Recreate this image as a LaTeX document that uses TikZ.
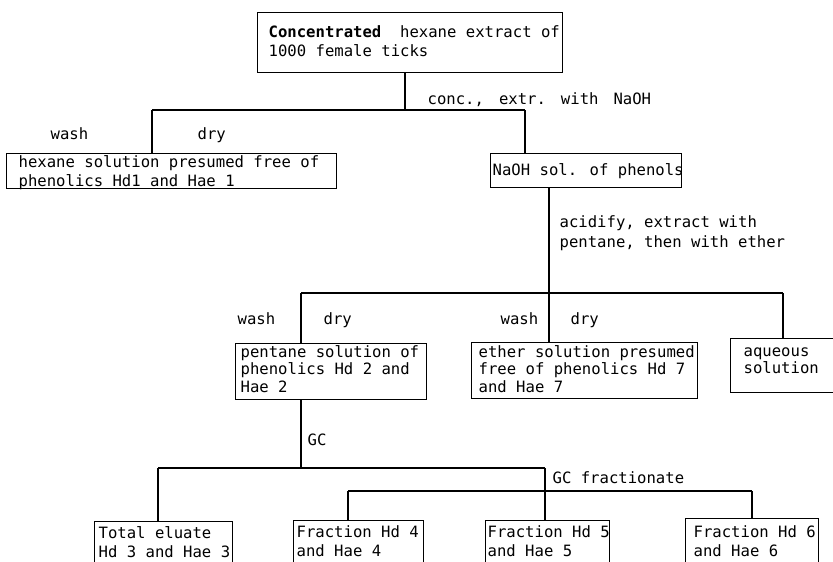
\documentclass[tikz,border=0pt]{standalone}
\usepackage{fontspec}
\setmainfont{DejaVu Sans Mono}
\usetikzlibrary{calc}
\begin{document}
\begin{tikzpicture}[x=1pt,y=-1pt,
  line width=1.35pt,
  frame/.style={draw, anchor=north west, inner sep=0pt},
  txt/.style={anchor=north west, inner sep=0pt, align=left,
              font=\fontsize{15.6pt}{19pt}\selectfont},
  txtB/.style={txt, font=\fontsize{15.6pt}{18.5pt}\selectfont},
  txtC/.style={txt, font=\fontsize{15.6pt}{17.5pt}\selectfont},
  txtW/.style={txt, font=\fontsize{15.6pt}{20pt}\selectfont},
  link/.style={line width=1.35pt}
]
\useasboundingbox (0,0) rectangle (833,562);
\clip (0,0) rectangle (833,562);

% ---- starting extract ----
\node[frame, minimum width=305pt, minimum height=60pt] (top) at (257,12) {};
\node[txt] (topT) at (268,25.4) {\textbf{Concentrated}\ \ hexane extract of\\1000 female ticks};
\node[txt] (concL) at (427,92.4) {conc.,\hspace{15pt}extr.\hspace{15pt}with\hspace{15pt}NaOH};

% ---- first split ----
\node[txt] (wash1) at (50,127.4) {wash};
\node[txt] (dry1) at (197,127.4) {dry};
\node[frame, minimum width=330pt, minimum height=35pt] (hex) at (6,153) {};
\node[txtB] (hexT) at (18,154.9) {hexane solution presumed free of\\phenolics Hd1 and Hae 1};
\node[frame, minimum width=191pt, minimum height=34pt] (naoh) at (490,153) {};
\node[txt] (naohT) at (492,162.4) {NaOH sol. of phenols};
\node[txtW] (acidL) at (559,215.4) {acidify, extract with\\pentane, then with ether};

% ---- second split ----
\node[txt] (wash2) at (237,312.4) {wash};
\node[txt] (dry2) at (323,312.4) {dry};
\node[txt] (wash3) at (500,312.4) {wash};
\node[txt] (dry3) at (570,312.4) {dry};
\node[frame, minimum width=191pt, minimum height=56pt] (pen) at (235,343) {};
\node[txtC] (penT) at (240,344.6) {pentane solution of\\phenolics Hd 2 and\\Hae 2};
\node[frame, minimum width=226pt, minimum height=56pt] (eth) at (471,342) {};
\node[txtC] (ethT) at (478,344.4) {ether solution presumed\\free of phenolics Hd 7\\and Hae 7};
\node[frame, minimum width=130pt, minimum height=54pt] (aq) at (730,338) {};
\node[txtC] (aqT) at (743,346.8) {aqueous\\solution};

% ---- gas chromatography ----
\node[txt] (gcL) at (307,433.5) {GC};
\node[txt] (gcfL) at (552,471.4) {GC fractionate};
\node[frame, minimum width=138pt, minimum height=70pt] (tot) at (94,521) {};
\node[txt] (totT) at (98,525.4) {Total eluate\\Hd 3 and Hae 3};
\node[frame, minimum width=130pt, minimum height=70pt] (fr4) at (293,520) {};
\node[txt] (fr4T) at (296,525.4) {Fraction Hd 4\\and Hae 4};
\node[frame, minimum width=124pt, minimum height=70pt] (fr5) at (485,520) {};
\node[txt] (fr5T) at (487,525.4) {Fraction Hd 5\\and Hae 5};
\node[frame, minimum width=133pt, minimum height=70pt] (fr6) at (685,518) {};
\node[txt] (fr6T) at (693,525.4) {Fraction Hd 6\\and Hae 6};

% ---- junction points ----
\coordinate (j1)  at (405,110);
\coordinate (j1L) at (152,110);
\coordinate (j1R) at (525,110);
\coordinate (j2)  at (549,293);
\coordinate (j2L) at (301,293);
\coordinate (j2R) at (783,293);
\coordinate (j3)  at (301,468);
\coordinate (j3L) at (158,468);
\coordinate (j3R) at (545,468);
\coordinate (j4L) at (348,491);
\coordinate (j4R) at (752,491);

% ---- connectors ----
\draw[link] (top.south -| j1) -- (j1);
\draw[link] (j1L) -- (j1R);
\draw[link] (j1L) -- (j1L |- hex.north);
\draw[link] (j1R) -- (j1R |- naoh.north);

\draw[link] (naoh.south -| j2) -- (j2 |- eth.north);
\draw[link] (j2L) -- (j2R);
\draw[link] (j2L) -- (j2L |- pen.north);
\draw[link] (j2R) -- (j2R |- aq.north);

\draw[link] (pen.south -| j3) -- (j3);
\draw[link] (j3L) -- (j3R);
\draw[link] (j3L) -- (j3L |- tot.north);
\draw[link] (j3R) -- (j3R |- fr5.north);
\draw[link] (j4L) -- (j4R);
\draw[link] (j4L) -- (j4L |- fr4.north);
\draw[link] (j4R) -- (j4R |- fr6.north);
\end{tikzpicture}
\end{document}
